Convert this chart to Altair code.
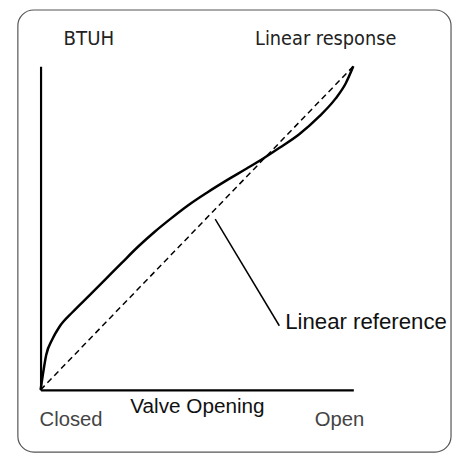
import altair as alt
import pandas as pd

# Valve characteristic curve (normalized 0-100)
valve_opening = [0, 0.73, 1.8, 3.88, 5.99, 10.19, 15.46, 20.73, 25.96, 31.23, 36.5, 41.74,
                 47.0, 53.3, 59.6, 65.9, 71.2, 76.4, 82.7, 89.1, 94.3, 97.5, 100]
btuh_output = [0, 4.66, 10.76, 15.85, 19.42, 23.99, 29.05, 34.15, 39.24, 44.3, 48.87, 53.0,
               56.9, 61.0, 64.8, 68.4, 71.5, 74.8, 79.0, 84.5, 90.0, 94.6, 100]

ref_x = [0, 100]
ref_y = [0, 100]

curve_df = pd.DataFrame({"x": valve_opening, "y": btuh_output})
ref_df = pd.DataFrame({"x": ref_x, "y": ref_y})

W, H = 317, 328
xs = alt.Scale(domain=[0, 100], nice=False, zero=False)
ys = alt.Scale(domain=[0, 100], nice=False, zero=False)

ax = dict(domain=True, domainColor="black", domainWidth=2.2, ticks=False,
          labels=False, grid=False, title=None)

curve = alt.Chart(curve_df).mark_line(
    interpolate="monotone", color="black", strokeWidth=2.5
).encode(
    x=alt.X("x:Q", scale=xs, axis=alt.Axis(**ax)),
    y=alt.Y("y:Q", scale=ys, axis=alt.Axis(**ax)),
)

ref = alt.Chart(ref_df).mark_line(
    color="black", strokeWidth=1.5, strokeDash=[6, 4]
).encode(x=alt.X("x:Q", scale=xs), y=alt.Y("y:Q", scale=ys))

dummy = pd.DataFrame({"a": [0]})

border = alt.Chart(dummy).mark_rect(
    fill=None, stroke="#555", strokeWidth=1.2, cornerRadius=16
).encode(x=alt.value(-23), x2=alt.value(416), y=alt.value(-57), y2=alt.value(391))

leader = alt.Chart(dummy).mark_rule(color="black", strokeWidth=1.5).encode(
    x=alt.value(177), x2=alt.value(242), y=alt.value(155), y2=alt.value(263)
)

def label(text, x, y, size, font="Liberation Sans", align="center", color="#111", weight="normal"):
    return alt.Chart(dummy).mark_text(
        text=text, font=font, fontSize=size, align=align, baseline="alphabetic",
        color=color, fontWeight=weight
    ).encode(x=alt.value(x), y=alt.value(y))

cond = "DejaVu Sans Condensed, Liberation Sans, sans-serif"
texts = [
    label("BTUH", 49, -22, 20.5, font=cond, color="#222"),
    label("Linear response", 289, -22, 20, font=cond, color="#222"),
    label("Valve Opening", 159, 351, 21),
    label("Closed", -1, 365, 20.5, align="left", color="#444"),
    label("Open", 328, 365, 20.5, align="right", color="#444"),
    label("Linear reference", 248, 266, 22.5, align="left"),
]

chart = alt.layer(border, ref, curve, leader, *texts).properties(
    width=W, height=H,
    autosize=alt.AutoSizeParams(type="none"),
    padding={"left": 33, "top": 56, "right": 101, "bottom": 67},
).configure_view(stroke=None)

chart.save("out.html", embed_options={"renderer": "svg", "actions": False})
